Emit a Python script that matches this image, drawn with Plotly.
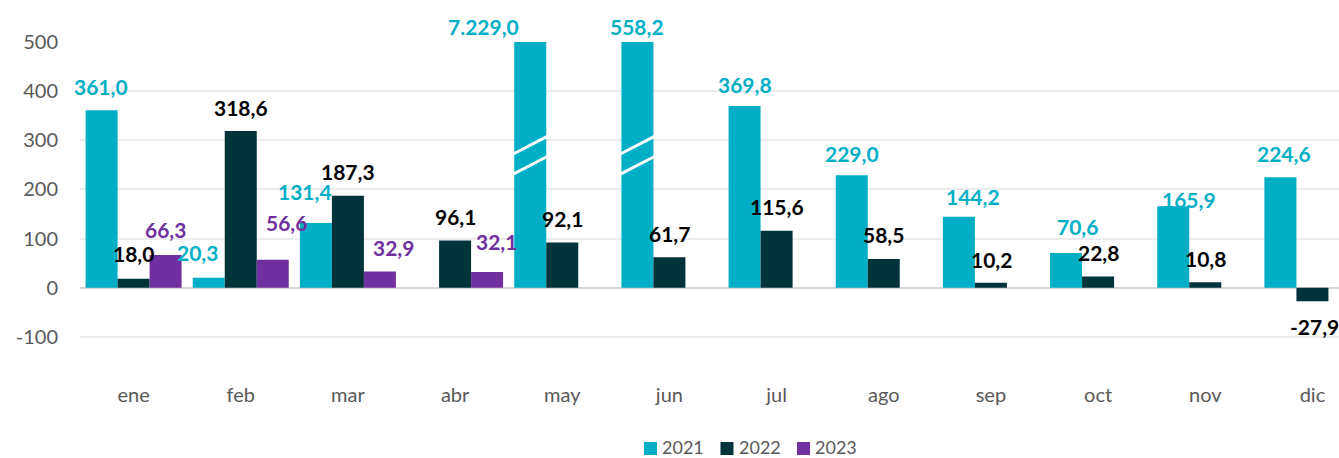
import plotly.graph_objects as go

# Monthly values per year
months = ["ene", "feb", "mar", "abr", "may", "jun", "jul", "ago", "sep", "oct", "nov", "dic"]
years = ["2021", "2022", "2023"]
v2021 = [361.0, 20.3, 131.4, None, 7229.0, 558.2, 369.8, 229.0, 144.2, 70.6, 165.9, 224.6]
v2022 = [18.0, 318.6, 187.3, 96.1, 92.1, 61.7, 115.6, 58.5, 10.2, 22.8, 10.8, -27.9]
v2023 = [66.3, 56.6, 32.9, 32.1, None, None, None, None, None, None, None, None]
y_ticks = [-100, 0, 100, 200, 300, 400, 500]

series = [v2021, v2022, v2023]
bar_colors = ["#00AFC6", "#00333A", "#7030A0"]
label_colors = ["#00AFC6", "#000000", "#7030A0"]

W, H = 1339, 458
M_L, M_R, M_T, M_B = 80, 0, 42, 77
Y_MIN, Y_MAX = -190, 500
BARGAP = 0.104
bar_w = (1 - BARGAP) / 3          # width of one bar in category units
slot = [-bar_w, 0.0, bar_w]       # bar centre offset per year

# label nudges in px: (dx, rise above bar end)
DEFAULT_RISE = 24
nudges = {
    (0, 0): (-1, 23.5), (0, 1): (-11, 25), (0, 2): (-11, 32),
    (0, 4): (-47, 16), (0, 5): (0, 16), (0, 6): (0, 21), (0, 7): (0, 22),
    (0, 8): (14, 20), (0, 9): (11, 26), (0, 10): (16, 7), (0, 11): (4, 23.5),
    (1, 0): (0, 25), (1, 8): (1, 23), (1, 11): (2, -25),
    (2, 0): (0, 26), (2, 1): (14, 37), (2, 2): (14, 24), (2, 3): (9, 30),
}


def es_fmt(v):
    s = f"{v:,.1f}"
    return s.replace(",", "X").replace(".", ",").replace("X", ".")


FONT = "Lato"
fig = go.Figure()
for k, (name, vals) in enumerate(zip(years, series)):
    fig.add_trace(go.Bar(
        x=months, y=vals, name=name,
        marker=dict(color=bar_colors[k], line=dict(width=0)),
    ))

annotations = []
for k, vals in enumerate(series):
    for i, v in enumerate(vals):
        if v is None:
            continue
        dx, rise = nudges.get((k, i), (0, DEFAULT_RISE))
        annotations.append(dict(
            x=i + slot[k], y=min(v, Y_MAX), xref="x", yref="y",
            text=f"<b>{es_fmt(v)}</b>", showarrow=False,
            xshift=dx, yshift=rise, xanchor="center", yanchor="middle",
            font=dict(family=FONT, size=21, color=label_colors[k]),
        ))

# axis-break marks on bars that run past the top of the scale
shapes = []
for i, v in enumerate(v2021):
    if v is not None and v > Y_MAX:
        x0, x1 = i + slot[0] - bar_w / 2 - 0.01, i + slot[0] + bar_w / 2 + 0.01
        for lo in (231, 272):
            shapes.append(dict(
                type="line", xref="x", yref="y",
                x0=x0, x1=x1, y0=lo, y1=lo + 36,
                line=dict(color="white", width=3),
            ))

# legend row below the axis: colour swatch followed by the year
plot_w, plot_h = W - M_L - M_R, H - M_T - M_B


def to_paper(px, py):
    return (px - M_L) / plot_w, (H - M_B - py) / plot_h


LEG_Y = 447
LEG_X0 = 644
LEG_STEP = 76.5
SW = 13
for k, name in enumerate(years):
    sx = LEG_X0 + k * LEG_STEP
    xp, yp = to_paper(sx, LEG_Y)
    xp2, _ = to_paper(sx + SW, LEG_Y)
    _, yp_top = to_paper(sx, LEG_Y + 1.5 - SW / 2)
    _, yp_bot = to_paper(sx, LEG_Y + 1.5 + SW / 2)
    shapes.append(dict(
        type="rect", xref="paper", yref="paper",
        x0=xp, x1=xp2, y0=yp_bot, y1=yp_top,
        fillcolor=bar_colors[k], line=dict(width=0),
    ))
    tx, _ = to_paper(sx + SW + 4, LEG_Y)
    annotations.append(dict(
        x=tx, y=yp, xref="paper", yref="paper", text=name,
        showarrow=False, xanchor="left", yanchor="middle", borderpad=0,
        font=dict(family=FONT, size=18, color="#595959"),
    ))

fig.update_layout(
    width=W, height=H,
    margin=dict(l=M_L, r=M_R, t=M_T, b=M_B, autoexpand=False),
    paper_bgcolor="white", plot_bgcolor="white",
    barmode="group", bargap=BARGAP, bargroupgap=0,
    separators=",.",
    font=dict(family=FONT, color="#595959"),
    showlegend=False,
    annotations=annotations,
    shapes=shapes,
)
fig.update_xaxes(
    range=[-0.5, 11.248], showgrid=False, showline=False, zeroline=False,
    ticks="", tickfont=dict(family=FONT, size=20, color="#595959"),
    ticklabelstandoff=0, fixedrange=True,
)
fig.update_yaxes(
    range=[Y_MIN, Y_MAX], tickvals=y_ticks, ticktext=[str(t) for t in y_ticks],
    showline=False,
    showgrid=True, gridcolor="#ECECEC", gridwidth=1.5,
    zeroline=True, zerolinecolor="#D6D6D6", zerolinewidth=2,
    ticks="", ticklabelstandoff=21,
    tickfont=dict(family=FONT, size=20, color="#595959"),
)

fig.write_html("out.html")
